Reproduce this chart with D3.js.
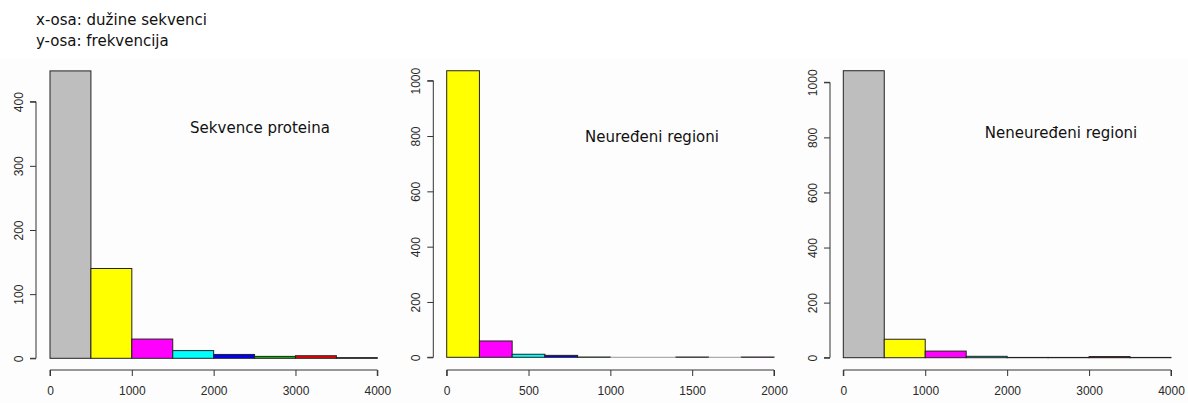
<!DOCTYPE html>
<html>
<head>
<meta charset="utf-8">
<script src="https://cdn.jsdelivr.net/npm/d3@7"></script>
<style>
  html, body { margin: 0; padding: 0; background: #ffffff; }
  svg { display: block; }
  .tick text { font-family: "Liberation Sans", Arial, sans-serif; font-size: 12px; fill: #2a2a2a; }
  .note { font-family: "DejaVu Sans", sans-serif; font-size: 15px; fill: #111; }
  .ptitle { font-family: "DejaVu Sans", sans-serif; font-size: 15px; fill: #111; }
</style>
</head>
<body>
<svg id="chart" width="1188" height="403"></svg>
<script>
// Histogram bin edges and counts for each panel
const proteinEdges = [0, 500, 1000, 1500, 2000, 2500, 3000, 3500, 4000];
const proteinCounts = [448, 140, 30, 12, 6, 3, 4, 1];

const disorderedEdges = [0, 200, 400, 600, 800, 1000, 1200, 1400, 1600, 1800, 2000];
const disorderedCounts = [1036, 59, 11, 7, 1, 0, 0, 1, 0, 1];

const orderedEdges = [0, 500, 1000, 1500, 2000, 2500, 3000, 3500, 4000];
const orderedCounts = [1042, 67, 24, 5, 1, 1, 4, 1];

// Tick labels
const proteinXTicks = [0, 1000, 2000, 3000, 4000];
const proteinYTicks = [0, 100, 200, 300, 400];
const disorderedXTicks = [0, 500, 1000, 1500, 2000];
const disorderedYTicks = [0, 200, 400, 600, 800, 1000];
const orderedXTicks = [0, 1000, 2000, 3000, 4000];
const orderedYTicks = [0, 200, 400, 600, 800, 1000];

const titles = ["Sekvence proteina", "Neuređeni regioni", "Neneuređeni regioni"];
const notes = ["x-osa: dužine sekvenci", "y-osa: frekvencija"];

// Bar fill cycle (reversed R palette)
const barColors = ["#BEBEBE", "#FFFF00", "#FF00FF", "#00FFFF", "#0000FF", "#00CD00", "#FF0000", "#000000"];
const disorderedColors = ["#FFFF00", "#FF00FF", "#00FFFF", "#0000FF", "#00CD00", "#FF0000", "#000000", "#BEBEBE", "#FFFF00", "#FF00FF"];

const svg = d3.select("#chart");

// Faint plotting-region background
svg.append("rect").attr("x", 0).attr("y", 58).attr("width", 1188).attr("height", 345).attr("fill", "#fdfdfd");

const panels = [
  { edges: proteinEdges, counts: proteinCounts, xTicks: proteinXTicks, yTicks: proteinYTicks, colors: barColors,
    x0: 50, x1: 377.3, y0: 358.3, yTop: 101.7, yMaxTick: 400, xAxisY: 370, yAxisX: 36, title: titles[0], tx: 260, ty: 133 },
  { edges: disorderedEdges, counts: disorderedCounts, xTicks: disorderedXTicks, yTicks: disorderedYTicks, colors: disorderedColors,
    x0: 446.7, x1: 774, y0: 357.3, yTop: 80.7, yMaxTick: 1000, xAxisY: 370, yAxisX: 433.3, title: titles[1], tx: 652, ty: 142 },
  { edges: orderedEdges, counts: orderedCounts, xTicks: orderedXTicks, yTicks: orderedYTicks, colors: barColors,
    x0: 843.3, x1: 1171, y0: 357.7, yTop: 82.3, yMaxTick: 1000, xAxisY: 370, yAxisX: 830, title: titles[2], tx: 1061, ty: 138 }
];

panels.forEach(p => {
  const xMax = p.edges[p.edges.length - 1];
  const x = d3.scaleLinear().domain([0, xMax]).range([p.x0, p.x1]);
  const y = d3.scaleLinear().domain([0, p.yMaxTick]).range([p.y0, p.yTop]);

  const g = svg.append("g");

  const bins = p.counts.map((c, i) => ({ lo: p.edges[i], hi: p.edges[i + 1], count: c, color: p.colors[i % p.colors.length] }));

  // Non-empty bins as filled rectangles
  g.selectAll("rect.bar").data(bins.filter(d => d.count > 0)).join("rect")
    .attr("class", "bar")
    .attr("x", d => x(d.lo))
    .attr("width", d => x(d.hi) - x(d.lo))
    .attr("y", d => y(d.count))
    .attr("height", d => y(0) - y(d.count))
    .attr("fill", d => d.color)
    .attr("stroke", "#222")
    .attr("stroke-width", 1);

  // Empty bins collapse to a flat outline on the baseline
  g.selectAll("line.empty").data(bins.filter(d => d.count === 0)).join("line")
    .attr("class", "empty")
    .attr("x1", d => x(d.lo)).attr("x2", d => x(d.hi))
    .attr("y1", y(0)).attr("y2", y(0))
    .attr("stroke", "#999")
    .attr("stroke-width", 1);

  // x axis
  const xa = g.append("g").attr("transform", `translate(0,${p.xAxisY})`)
    .call(d3.axisBottom(x).tickValues(p.xTicks).tickSize(6).tickPadding(10).tickFormat(d3.format("d")));
  xa.select(".domain").attr("stroke", "#333").attr("d", `M${x(p.xTicks[0])},6V0H${x(p.xTicks[p.xTicks.length - 1])}V6`);
  xa.selectAll(".tick line").attr("stroke", "#333");

  // y axis
  const ya = g.append("g").attr("transform", `translate(${p.yAxisX},0)`)
    .call(d3.axisLeft(y).tickValues(p.yTicks).tickSize(6).tickPadding(0).tickFormat(d3.format("d")));
  ya.select(".domain").attr("stroke", "#333").attr("d", `M-6,${y(p.yTicks[0])}H0V${y(p.yTicks[p.yTicks.length - 1])}H-6`);
  ya.selectAll(".tick line").attr("stroke", "#333");
  ya.selectAll(".tick text")
    .attr("x", 0).attr("dy", 0)
    .attr("text-anchor", "middle")
    .attr("transform", "translate(-13,0) rotate(-90)");

  g.append("text").attr("class", "ptitle")
    .attr("x", p.tx).attr("y", p.ty)
    .attr("text-anchor", "middle")
    .text(p.title);
});

svg.selectAll("text.note").data(notes).join("text")
  .attr("class", "note")
  .attr("x", 36)
  .attr("y", (d, i) => 25 + i * 21)
  .text(d => d);
</script>
</body>
</html>
